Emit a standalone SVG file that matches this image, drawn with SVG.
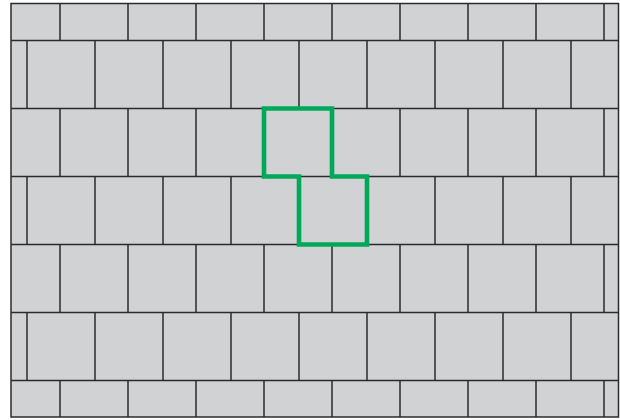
<svg xmlns="http://www.w3.org/2000/svg" width="620" height="420" viewBox="0 0 620 420">
<style>
.bg{fill:#d1d2d4;stroke:#2b2b2b;stroke-width:1.5}
.ln{stroke:#2b2b2b;stroke-width:1.5;fill:none}
.hl{fill:none;stroke:#00a859;stroke-width:4.6;stroke-linejoin:miter}
</style>
<rect width="620" height="420" fill="#fff"/>
<g id="wall">
<rect class="bg" x="11" y="3.5" width="607.5" height="413.5"/>
<g class="ln">
<path d="M11 40.5H618.5M11 108.5H618.5M11 176.5H618.5M11 244.5H618.5M11 312.5H618.5M11 380.5H618.5"/>
<path d="M60 3.5V40.5M128 3.5V40.5M196 3.5V40.5M264 3.5V40.5M332 3.5V40.5M400 3.5V40.5M468 3.5V40.5M536 3.5V40.5M604 3.5V40.5"/>
<path d="M27 40.5V108.5M95 40.5V108.5M163 40.5V108.5M231 40.5V108.5M299 40.5V108.5M367 40.5V108.5M435 40.5V108.5M503 40.5V108.5M571 40.5V108.5"/>
<path d="M60 108.5V176.5M128 108.5V176.5M196 108.5V176.5M264 108.5V176.5M332 108.5V176.5M400 108.5V176.5M468 108.5V176.5M536 108.5V176.5M604 108.5V176.5"/>
<path d="M27 176.5V244.5M95 176.5V244.5M163 176.5V244.5M231 176.5V244.5M299 176.5V244.5M367 176.5V244.5M435 176.5V244.5M503 176.5V244.5M571 176.5V244.5"/>
<path d="M60 244.5V312.5M128 244.5V312.5M196 244.5V312.5M264 244.5V312.5M332 244.5V312.5M400 244.5V312.5M468 244.5V312.5M536 244.5V312.5M604 244.5V312.5"/>
<path d="M27 312.5V380.5M95 312.5V380.5M163 312.5V380.5M231 312.5V380.5M299 312.5V380.5M367 312.5V380.5M435 312.5V380.5M503 312.5V380.5M571 312.5V380.5"/>
<path d="M60 380.5V417M128 380.5V417M196 380.5V417M264 380.5V417M332 380.5V417M400 380.5V417M468 380.5V417M536 380.5V417M604 380.5V417"/>
</g>
</g>
<g id="highlight">
<path class="hl" d="M264 108.5H332V176.5H367V244.5H299V176.5H264Z"/>
</g>
</svg>
